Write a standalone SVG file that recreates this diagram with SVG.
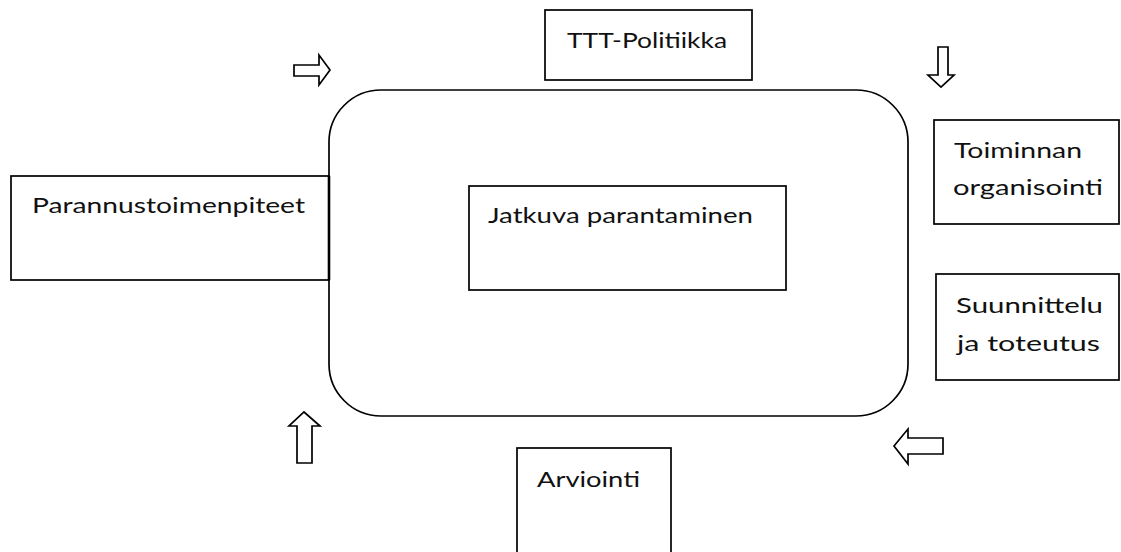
<svg xmlns="http://www.w3.org/2000/svg" width="1121" height="552" viewBox="0 0 1121 552">
<style>
.b{fill:#fff;stroke:#000;stroke-width:1.7}
.a{fill:#fff;stroke:#000;stroke-width:1.7;stroke-linejoin:miter}
.t{font-family:Lato,"Open Sans","Noto Sans",sans-serif;font-size:22px;fill:#111}
</style>
<rect width="1121" height="552" fill="#fff"/>
<g id="main">
<rect class="b" x="329" y="90" width="579" height="326" rx="52" ry="52"/>
</g>
<g id="jatkuva">
<rect class="b" x="469" y="186" width="317" height="104"/>
<text class="t" x="488" y="223" textLength="265" lengthAdjust="spacingAndGlyphs">Jatkuva parantaminen</text>
</g>
<g id="ttt">
<rect class="b" x="545" y="10" width="207" height="70"/>
<text class="t" x="567" y="48" textLength="160" lengthAdjust="spacingAndGlyphs">TTT-Politiikka</text>
</g>
<g id="toiminnan">
<rect class="b" x="934" y="120" width="185" height="104"/>
<text class="t" x="954" y="158" textLength="128" lengthAdjust="spacingAndGlyphs">Toiminnan</text>
<text class="t" x="953" y="195" textLength="150" lengthAdjust="spacingAndGlyphs">organisointi</text>
</g>
<g id="suunnittelu">
<rect class="b" x="936" y="274" width="183" height="106"/>
<text class="t" x="956" y="313" textLength="147" lengthAdjust="spacingAndGlyphs">Suunnittelu</text>
<text class="t" x="957" y="351" textLength="143" lengthAdjust="spacingAndGlyphs">ja toteutus</text>
</g>
<g id="arviointi">
<rect class="b" x="517" y="448" width="154" height="120"/>
<text class="t" x="537" y="487" textLength="103" lengthAdjust="spacingAndGlyphs">Arviointi</text>
</g>
<g id="parannus">
<rect class="b" x="11" y="176" width="318" height="104"/>
<line x1="329" y1="176" x2="329" y2="280" stroke="#000" stroke-width="2.6"/>
<text class="t" x="32" y="213" textLength="273" lengthAdjust="spacingAndGlyphs">Parannustoimenpiteet</text>
</g>
<g id="connectors">
<polygon class="a" points="294,65 319,65 319,55 330,70 319,85 319,76 294,76"/>
<polygon class="a" points="938,47 948,47 948,75 954,75 941,87 928,75 938,75"/>
<polygon class="a" points="943,438 908,438 908,429 894,446 908,464 908,454 943,454"/>
<polygon class="a" points="297,463 297,426 289,426 304,412 320,426 312,426 312,463"/>
</g>
</svg>
